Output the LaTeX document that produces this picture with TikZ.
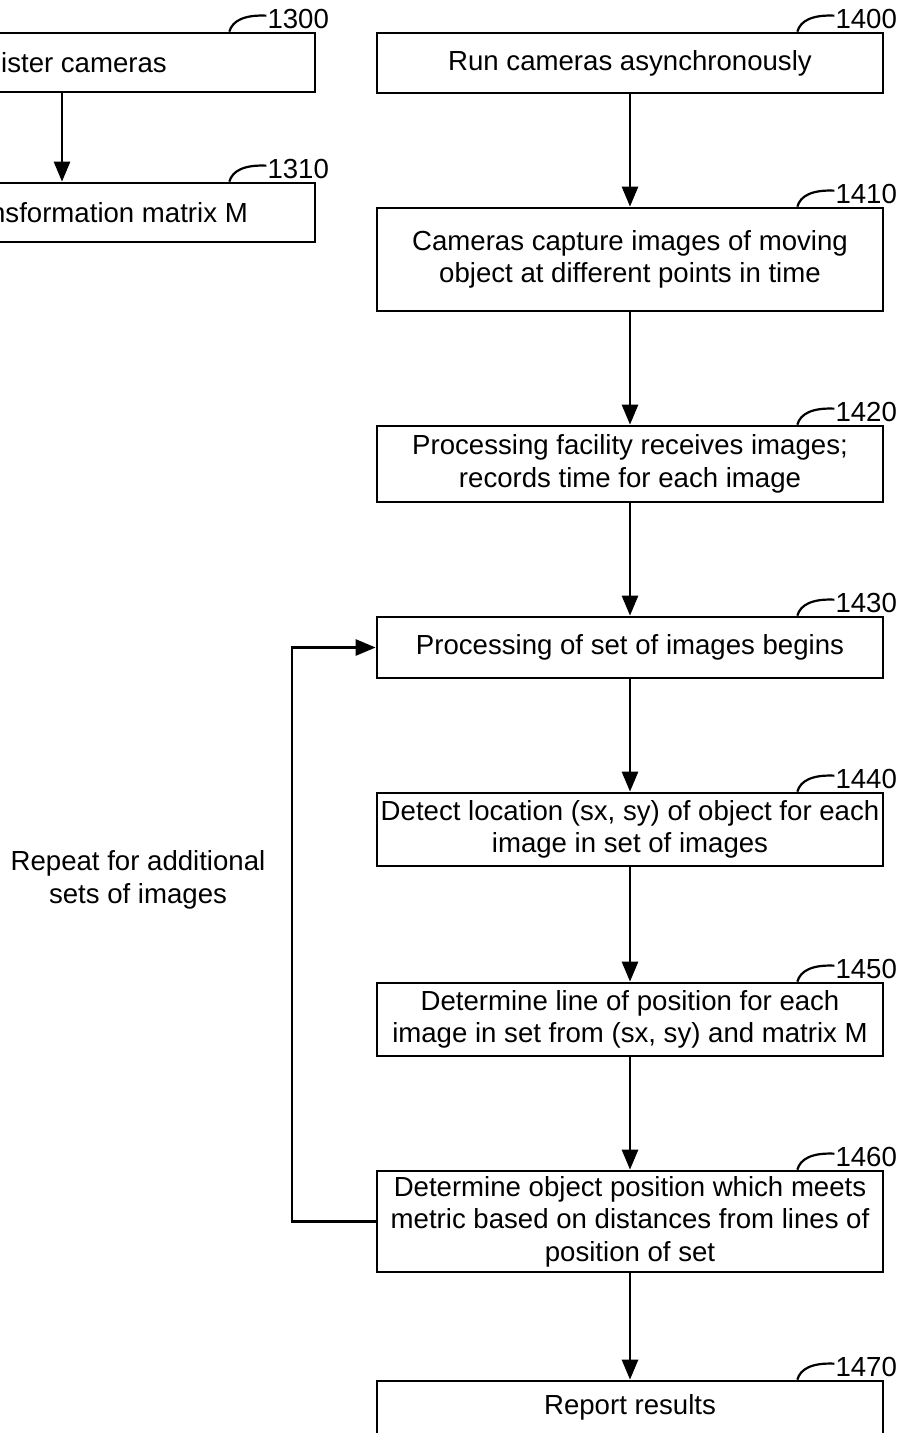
\documentclass[tikz,border=0pt]{standalone}
\usepackage{fontspec}
\setmainfont{Liberation Sans}
\usetikzlibrary{arrows.meta,calc}
\begin{document}
\begin{tikzpicture}[x=1pt,y=-1pt,
  every node/.style={font=\fontsize{27.6}{32.5}\selectfont},
  box/.style={draw,line width=2.7pt,minimum width=506pt,inner sep=0pt,align=center},
  flow/.style={line width=2.7pt,-{Triangle[width=16pt,length=20pt]}},
  leader/.style={line width=2.2pt},
  reflabel/.style={anchor=base west,inner sep=0pt}]
\useasboundingbox (0,0) rectangle (899,1433);
\clip (0,0) rectangle (899,1433);
% left column
\node[box,minimum height=59pt] (b1300) at (62,62.5) {};
\node[anchor=base east,inner sep=0pt] (t1300) at (167,72) {ister cameras};
\node[box,minimum height=59pt] (b1310) at (62,212.5) {};
\node[anchor=base east,inner sep=0pt] (t1310) at (248,222) {nsformation matrix M};
\draw[flow] (b1300.south) -- (b1310.north);
% right column
\node[box,minimum height=60pt] (b1400) at (630,63) {Run cameras asynchronously};
\node[box,minimum height=103pt] (b1410) at (630,259.5) {Cameras capture images of moving\\object at different points in time};
\node[box,minimum height=76pt] (b1420) at (630,464) {Processing facility receives images;\\records time for each image};
\node[box,minimum height=61pt] (b1430) at (630,647.5) {Processing of set of images begins};
\node[box,minimum height=73pt] (b1440) at (630,829.5) {Detect location (sx, sy) of object for each\\image in set of images};
\node[box,minimum height=73pt] (b1450) at (630,1019.5) {Determine line of position for each\\image in set from (sx, sy) and matrix M};
\node[box,minimum height=101pt] (b1460) at (630,1221.5) {Determine object position which meets\\metric based on distances from lines of\\position of set};
\node[box,minimum height=100pt] (b1470) at (630,1431) {};
\node[inner sep=0pt] (t1470) at (630,1407) {Report results};
\draw[flow] (b1400.south) -- (b1410.north);
\draw[flow] (b1410.south) -- (b1420.north);
\draw[flow] (b1420.south) -- (b1430.north);
\draw[flow] (b1430.south) -- (b1440.north);
\draw[flow] (b1440.south) -- (b1450.north);
\draw[flow] (b1450.south) -- (b1460.north);
\draw[flow] (b1460.south) -- (b1470.north);
% feedback loop
\coordinate (lp) at (292,1221.5);
\draw[flow] (b1460.west) -- (lp) |- (b1430.west);
\node[align=center,inner sep=0pt] (rep) at (138,880) {Repeat for additional\\sets of images};
% reference labels
\foreach \b/\t in {b1300/1300,b1310/1310,b1400/1400,b1410/1410,b1420/1420,b1430/1430,b1440/1440,b1450/1450,b1460/1460,b1470/1470}{
  \coordinate (s\t) at ($(\b.north east)+(-87,0)$);
  \coordinate (e\t) at ($(\b.north east)+(-50,-16)$);
  \draw[leader] (s\t) .. controls ($(s\t)+(3,-11)$) and ($(s\t)+(15,-17)$) .. (e\t);
  \node[reflabel] (l\t) at ($(\b.north east)+(-49,-3)$) {\t};
}
\end{tikzpicture}
\end{document}
